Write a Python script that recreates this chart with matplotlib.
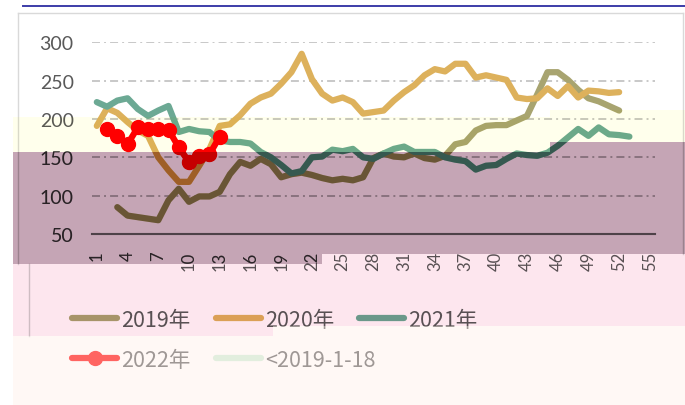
import numpy as np
import matplotlib
matplotlib.use("Agg")
import matplotlib.pyplot as plt
from matplotlib.artist import Artist
from matplotlib.lines import Line2D

# ---- data (weekly values) ----
weeks_2019 = list(range(3, 53))
s2019 = [85, 74, 72, 70, 68, 94, 109, 92, 99, 99, 105, 128, 144, 139, 148, 141, 124, 128,
         130, 127, 123, 120, 122, 120, 124, 149, 155, 151, 150, 155, 149, 147, 152, 167,
         170, 185, 191, 192, 192, 198, 204, 232, 261, 261, 251, 238, 227, 223, 217, 211]

weeks_2020 = list(range(1, 53))
s2020 = [191, 214, 208, 196, 185, 178, 150, 133, 118, 118, 139, 161, 191, 193, 205, 220,
         228, 233, 246, 261, 285, 252, 233, 224, 228, 222, 207, 209, 211, 224, 235, 244,
         257, 265, 262, 272, 272, 254, 257, 254, 251, 228, 226, 227, 240, 230, 243, 228,
         237, 236, 234, 235]

weeks_2021 = list(range(1, 54))
s2021 = [222, 216, 224, 227, 213, 204, 211, 217, 183, 187, 184, 183, 172, 170, 170, 168,
         157, 150, 140, 129, 132, 150, 151, 160, 158, 161, 150, 148, 155, 161, 164, 157,
         157, 157, 150, 147, 145, 134, 139, 140, 148, 155, 153, 152, 156, 165, 176, 187,
         178, 189, 180, 179, 177]

weeks_2022 = list(range(2, 14))
s2022 = [187, 178, 167, 189, 187, 187, 186, 163, 144, 152, 154, 177]

tick_weeks = list(range(1, 56, 3))
tick_labels = [str(w) for w in tick_weeks]
y_ticks = [50, 100, 150, 200, 250, 300]

W, H = 685, 406


class Overlay(Artist):
    # tints rectangular pixel areas of what has been drawn so far
    def __init__(self, boxes, rgb, gamma=1.0, mix=None):
        super().__init__()
        self.boxes = boxes
        self.rgb = np.array(rgb, float) / 255
        self.gamma = gamma
        self.mix = mix
        self.set_zorder(50)

    def draw(self, renderer):
        buf = np.asarray(renderer.buffer_rgba())
        sx = buf.shape[1] / W
        sy = buf.shape[0] / H
        for x0, x1, y0, y1 in self.boxes:
            r0, r1 = int(round(y0 * sy)), int(round(y1 * sy))
            c0, c1 = int(round(x0 * sx)), int(round(x1 * sx))
            px = buf[r0:r1, c0:c1, :3].astype(float) / 255
            if self.mix is None:
                px = self.rgb * px ** self.gamma
            else:
                px = (1 - self.mix) * px + self.mix * self.rgb
            out = np.clip(px * 255 + 0.5, 0, 255).astype(np.uint8)
            try:
                buf[r0:r1, c0:c1, :3] = out
            except ValueError:
                img = np.dstack([out, np.full(out.shape[:2], 255, np.uint8)])
                gc = renderer.new_gc()
                renderer.draw_image(gc, c0, buf.shape[0] - r1, np.ascontiguousarray(img))
                gc.restore()


fig = plt.figure(figsize=(6.85, 4.06), dpi=100)
ax = fig.add_axes([91.7 / W, 1 - 235 / H, (655 - 91.7) / W, (235 - 43.3) / H])

lw = 4.5
kw = dict(lw=lw, solid_capstyle="round", solid_joinstyle="round")
l19, = ax.plot(weeks_2019, s2019, color="#a8a470", label="2019年", **kw)
l20, = ax.plot(weeks_2020, s2020, color="#ddb15c", label="2020年", **kw)
l21, = ax.plot(weeks_2021, s2021, color="#6ca994", label="2021年", **kw)
l22, = ax.plot(weeks_2022, s2022, color="#ff0000", marker="o", markersize=10, label="2022年", **kw)
l18, = ax.plot([], [], color="#cdeed6", label="<2019-1-18", **kw)

ax.set_xlim(0.5, 55.5)
ax.set_ylim(50, 300)
ax.set_yticks(y_ticks)
ax.set_xticks(tick_weeks)
ax.set_xticklabels(tick_labels, rotation=90, fontsize=12, family="Lato", color="#595959")
ax.set_yticklabels([str(v) for v in y_ticks], fontsize=14, family="Lato", color="#595959")
ax.tick_params(axis="y", length=0, pad=13)
ax.tick_params(axis="x", length=0, pad=12)
ax.grid(axis="y", color="#c8c8c8", lw=1.4, linestyle=(0, (4.1, 2.1, 1, 2.1)))
ax.set_axisbelow(True)
for s in ["top", "right", "left"]:
    ax.spines[s].set_visible(False)
ax.spines["bottom"].set_color("#8a8a8a")
ax.spines["bottom"].set_linewidth(1.5)
ax.patch.set_alpha(0)

leg_kw = dict(loc="upper left", frameon=False, borderpad=0, borderaxespad=0,
              handlelength=2.1, handletextpad=0.2, columnspacing=1.15,
              prop={"family": ["Noto Sans CJK SC", "DejaVu Sans"], "size": 15.5},
              labelcolor="#595959")
fig.legend([l19, l20, l21], ["2019年", "2020年", "2021年"], ncol=3,
           bbox_to_anchor=(72 / W, 1 - 310 / H), **leg_kw)
fig.legend([l22, l18], ["2022年", "<2019-1-18"], ncol=2,
           bbox_to_anchor=(72 / W, 1 - 350 / H), **leg_kw)

# frame decoration
fig.add_artist(Line2D([23 / W, 1], [1 - 7 / H, 1 - 7 / H], color="#3c3ca8", lw=1.4))
fig.add_artist(Line2D([18 / W, 683 / W], [1 - 14 / H, 1 - 14 / H], color="#d9d9d9", lw=1))
fig.add_artist(Line2D([18 / W, 18 / W], [1 - 14 / H, 1 - 265 / H], color="#d9d9d9", lw=1))
fig.add_artist(Line2D([683 / W, 683 / W], [1 - 14 / H, 1 - 255 / H], color="#d9d9d9", lw=1))
fig.add_artist(Line2D([29 / W, 29 / W], [1 - 265 / H, 1 - 337 / H], color="#d0d0d0", lw=1))

# colour bands laid over the picture
fig.add_artist(Overlay([(13, 550, 117, 152), (550, 685, 110, 142)], (255, 255, 236)))
fig.add_artist(Overlay([(13, 322, 152, 265), (322, 550, 152, 255), (550, 685, 142, 255)],
                       (197, 165, 181), gamma=1.5))
fig.add_artist(Overlay([(13, 273, 265, 337), (273, 322, 265, 327), (322, 685, 255, 327)],
                       (253, 230, 238), gamma=1.0))
fig.add_artist(Overlay([(13, 273, 337, 406), (273, 685, 327, 406)],
                       (255, 238, 232), mix=0.42))

fig.savefig("out.png", dpi=100, facecolor="white")
